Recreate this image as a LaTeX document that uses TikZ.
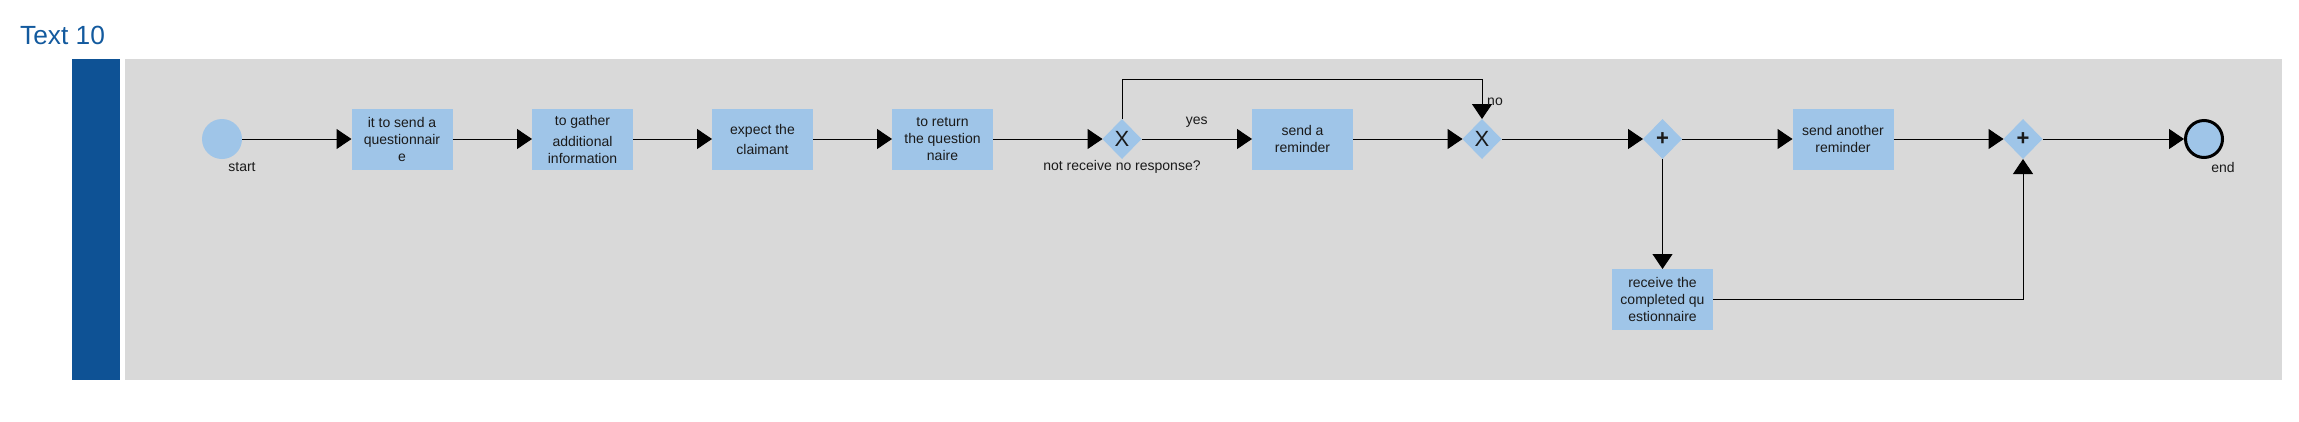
\documentclass[tikz,border=0pt]{standalone}
\usepackage{fontspec}
\setmainfont{Liberation Sans}
\usetikzlibrary{arrows.meta,shapes.geometric}
\definecolor{lanegray}{HTML}{D9D9D9}
\definecolor{taskblue}{HTML}{9FC5E8}
\definecolor{barblue}{HTML}{0E5295}
\definecolor{titleblue}{HTML}{135A9E}
\definecolor{txt}{HTML}{1A1A1A}
\begin{document}
\begin{tikzpicture}[x=1pt,y=-1pt,
  task/.style={fill=taskblue, minimum width=101pt, minimum height=61pt, inner sep=0pt, outer sep=0pt, align=center, font=\fontsize{14}{17}\selectfont, text=txt},
  gw/.style={diamond, fill=taskblue, minimum width=39pt, minimum height=40pt, inner sep=0pt, outer sep=0pt},
  gwsym/.style={font=\fontsize{22}{22}\selectfont, inner sep=0pt, text=txt},
  flow/.style={draw=black, line width=1pt, -{Triangle[length=15pt,width=20pt]}},
  lbl/.style={font=\fontsize{14}{17}\selectfont, inner sep=0pt, text=txt}]
\useasboundingbox (0,0) rectangle (2299,421);
\fill[barblue] (72,59) rectangle (120,380);
\fill[lanegray] (125,59) rectangle (2282,380);
\node[anchor=base west, font=\fontsize{26.3}{31}\selectfont, text=titleblue, inner sep=0pt] (title) at (20,44) {Text 10};

\node[circle, fill=taskblue, minimum size=40pt, inner sep=0pt, outer sep=0pt] (start) at (222,139) {};
\node[lbl] (startl) at (242,167) {start};

\node[task] (t1) at (402,139) {it to send a\\questionnair\\e};
\node[task] (t2) at (582.5,139) {to gather\\[4pt]additional\\information};
\node[task] (t3) at (762.5,139) {expect the\\[3pt]claimant};
\node[task] (t4) at (942.5,139) {to return\\the question\\naire};
\node[gw, label={[gwsym]center:X}] (g1) at (1122,139) {};
\node[lbl] (g1l) at (1122,167) {not receive no response?};
\node[task] (sr) at (1302.5,139) {send a\\reminder};
\node[gw, label={[gwsym]center:X}] (g2) at (1482,139) {};
\node[gw, label={[gwsym,font=\fontsize{22}{22}\selectfont\bfseries]center:+}] (g3) at (1662.5,139) {};
\node[task] (sa) at (1843,139) {send another\\reminder};
\node[gw, label={[gwsym,font=\fontsize{22}{22}\selectfont\bfseries]center:+}] (g4) at (2023,139) {};
\node[circle, draw=black, line width=3pt, fill=taskblue, minimum size=37pt, inner sep=0pt] (endev) at (2204,139) {};
\node[lbl] (endl) at (2223,167) {end};
\node[task] (rc) at (1662.5,299.5) {receive the\\completed qu\\estionnaire};

\coordinate (loopy) at (1122,79);

\draw[flow] (start) -- (t1);
\draw[flow] (t1) -- (t2);
\draw[flow] (t2) -- (t3);
\draw[flow] (t3) -- (t4);
\draw[flow] (t4) -- (g1);
\draw[flow] (g1) -- node[lbl, above=11pt, pos=0.5] (yesl) {yes} (sr);
\draw[flow] (g1.north) -- (g1.north |- loopy) -| (g2.north);
\node[lbl, anchor=west] (nol) at (1487,102) {no};
\draw[flow] (sr) -- (g2);
\draw[flow] (g2) -- (g3);
\draw[flow] (g3) -- (sa);
\draw[flow] (g3.south) -- (rc.north);
\draw[flow] (sa) -- (g4);
\draw[flow] (rc.east) -| (g4.south);
\draw[flow] (g4) -- (endev);
\end{tikzpicture}
\end{document}
